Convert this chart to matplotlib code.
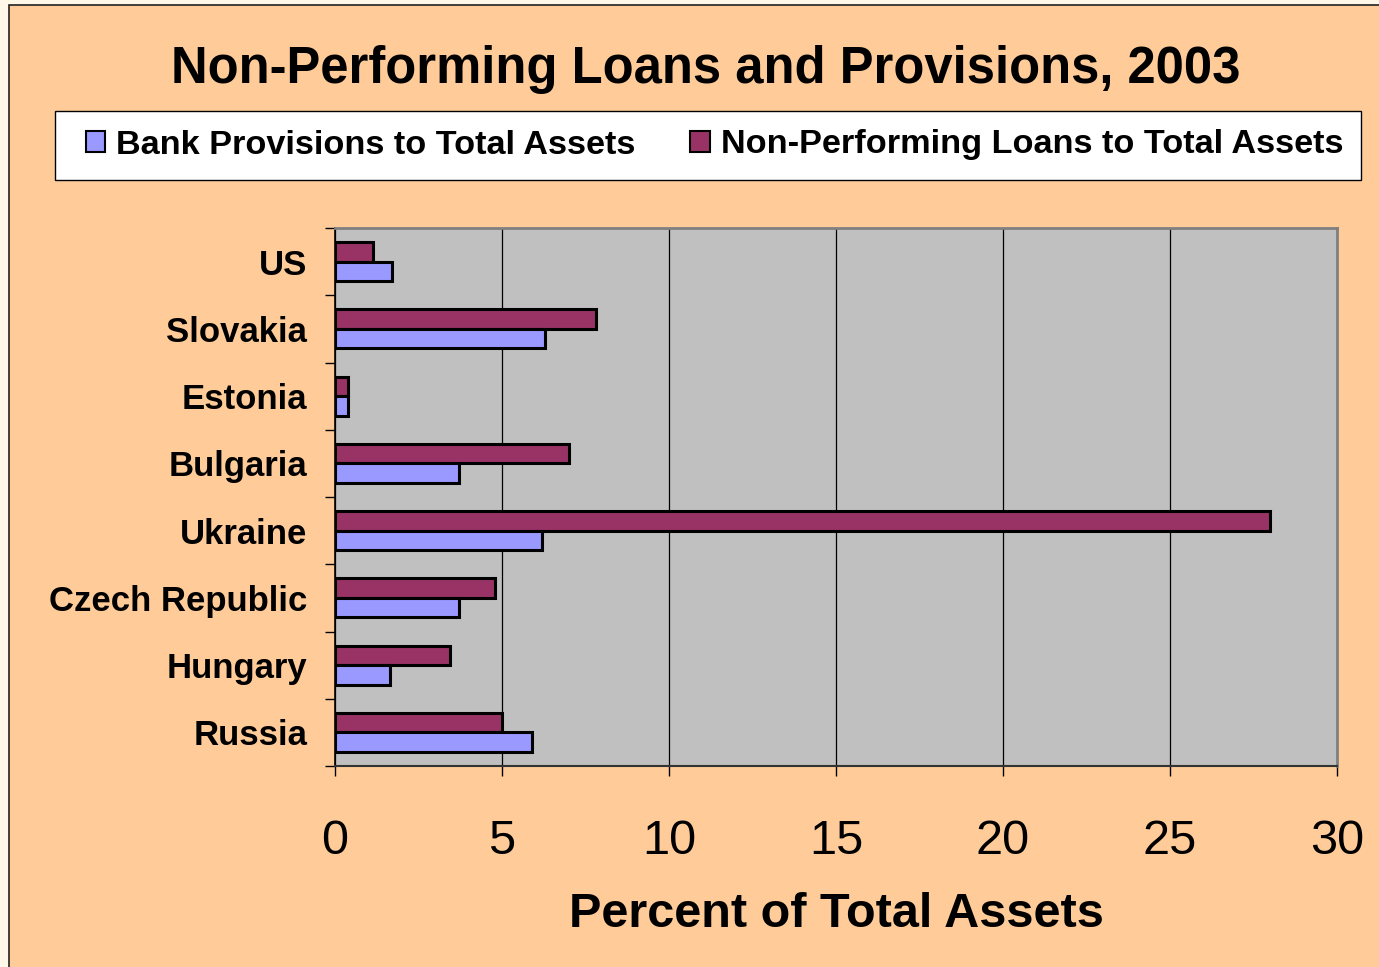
import matplotlib
matplotlib.use("Agg")
import matplotlib.pyplot as plt
from matplotlib.patches import Rectangle
import numpy as np

# data (top to bottom as shown)
countries = ["US", "Slovakia", "Estonia", "Bulgaria", "Ukraine",
             "Czech Republic", "Hungary", "Russia"]
npl = [1.15, 7.8, 0.4, 7.0, 28.0, 4.8, 3.45, 5.0]
provisions = [1.7, 6.3, 0.4, 3.7, 6.2, 3.7, 1.65, 5.9]
xticks = [0, 5, 10, 15, 20, 25, 30]

PEACH, CREAM = "#FFCC99", "#FFF8E8"
PLOT_BG = "#C0C0C0"
NPL_C, PROV_C = "#993366", "#9999FF"

plt.rcParams["font.family"] = ["Liberation Sans", "DejaVu Sans"]

W, H = 1379, 967
fig = plt.figure(figsize=(W / 100, H / 100), dpi=100, facecolor=CREAM)

# peach panel with dark frame on left/top
fig.patches.append(Rectangle((9 / W, -0.05), 1.1, 1 - 5 / H + 0.05,
                             transform=fig.transFigure, facecolor=PEACH,
                             edgecolor="#222222", lw=1.2, zorder=-10))
# legend box
fig.patches.append(Rectangle((55 / W, 1 - 180 / H), (1361 - 55) / W, 69 / H,
                             transform=fig.transFigure, facecolor="white",
                             edgecolor="black", lw=1, zorder=-5))

ax = fig.add_axes([335 / W, 1 - 766 / H, (1337 - 335) / W, (766 - 228) / H])
ax.set_facecolor(PLOT_BG)

y = np.arange(len(countries))
h = 0.29
b_npl = ax.barh(y - h / 2, npl, height=h, color=NPL_C, edgecolor="black",
                lw=2.2, label="Non-Performing Loans to Total Assets", zorder=3)
b_prov = ax.barh(y + h / 2, provisions, height=h, color=PROV_C, edgecolor="black",
                 lw=2.2, label="Bank Provisions to Total Assets", zorder=3)

ax.set_xlim(0, 30)
ax.set_ylim(len(countries) - 0.5, -0.5)
ax.set_xticks(xticks)
ax.set_xticklabels([str(t) for t in xticks], fontsize=35)
ax.tick_params(axis="x", direction="out", length=7, width=1, pad=31, colors="black")
ax.set_yticks(y)
ax.set_yticklabels(countries, fontsize=25, fontweight="bold")
ax.tick_params(axis="y", which="major", length=0, pad=20)
ax.set_yticks(np.arange(-0.5, len(countries), 1), minor=True)
ax.tick_params(axis="y", which="minor", direction="out", length=7, width=1)

ax.xaxis.grid(True, color="black", lw=0.9)
ax.set_axisbelow(True)
ax.spines["top"].set_color("#808080")
ax.spines["right"].set_color("#808080")
ax.spines["top"].set_linewidth(2)
ax.spines["right"].set_linewidth(2)
ax.spines["left"].set_color("black")
ax.spines["bottom"].set_color("#333333")
ax.spines["left"].set_linewidth(1.2)
ax.spines["bottom"].set_linewidth(1.5)

ax.set_xlabel("Percent of Total Assets", fontsize=35, fontweight="bold", labelpad=20)

fig.text(706 / W, 1 - 69 / H, "Non-Performing Loans and Provisions, 2003",
         ha="center", va="center", fontsize=36.5, fontweight="bold")

leg = fig.legend(handles=[b_prov, b_npl],
                 labels=["Bank Provisions to Total Assets",
                         "Non-Performing Loans to Total Assets"],
                 loc="center left", ncol=2,
                 bbox_to_anchor=(86 / W, 1 - 145 / H),
                 prop={"size": 24.7, "weight": "bold"}, frameon=False,
                 handlelength=0.56, handleheight=0.56, handletextpad=0.32,
                 columnspacing=1.6, borderaxespad=0, borderpad=0)
for p in leg.legend_handles:
    p.set_linewidth(1.5)

fig.savefig("out.png", dpi=100, facecolor=CREAM)
